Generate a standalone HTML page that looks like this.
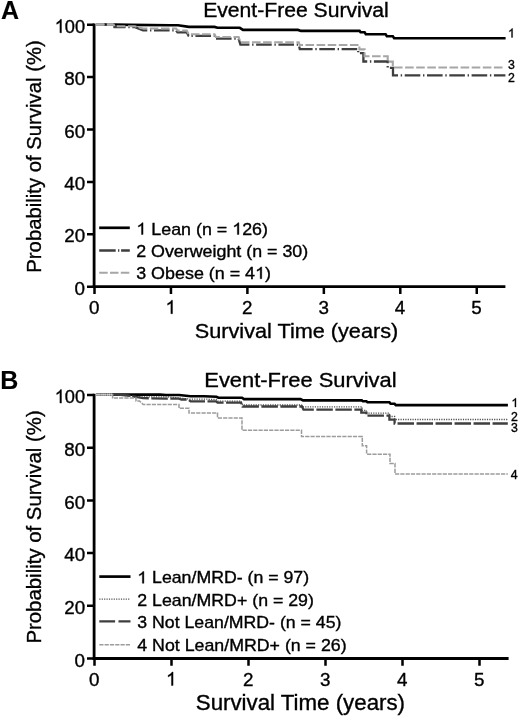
<!DOCTYPE html>
<html>
<head>
<meta charset="utf-8">
<title>Event-Free Survival</title>
<style>
html,body{margin:0;padding:0;background:#fff;}
body{width:520px;height:717px;overflow:hidden;font-family:"Liberation Sans",sans-serif;}
svg{display:block;will-change:transform;}
text{font-family:"Liberation Sans",sans-serif;fill:#000;stroke:#000;stroke-width:0.35px;}
.tl{font-size:18.8px;}
.lg{font-size:16.4px;}
.el{font-size:12.3px;}
.pl{font-size:25px;font-weight:bold;stroke-width:0.1px;}
.ax{stroke:#000;stroke-width:2.8;fill:none;}
.tk{stroke:#000;stroke-width:2.5;fill:none;}
.c{fill:none;stroke-linejoin:miter;}
.g1{fill:#000;stroke:#000;}
</style>
</head>
<body>
<svg width="520" height="717" viewBox="0 0 520 717">
<rect x="0" y="0" width="520" height="717" fill="#fff"/>
<g id="panelA">
<text class="pl" x="1.1" y="19.3">A</text>
<text x="203.2" y="17.4" font-size="20" textLength="185.6" lengthAdjust="spacingAndGlyphs">Event-Free Survival</text>
<!-- curves -->
<path class="c" stroke="#000" stroke-width="2.6" d="M96 24.5 H114 L130 24.9 L170 25.3 H178 L188.8 26.9 H214.5 L217.5 27.8 H239.8 L243 29.9 H298 L301 30.9 H359.6 L360.6 32.3 H364.6 L365.8 34.2 H385.6 L386.8 36.2 H392.8 L394.2 38.3 H505.6"/>
<path class="c" stroke="#3e3e3e" stroke-width="2.3" stroke-dasharray="15.6 2.7 1.4 2.6" stroke-dashoffset="6.3" d="M96 24.5 H113.6 L114.4 27.2 H135 L143 30.4 H176 L177.5 32.4 H186.8 L188.6 35.9 H214.6 L215.8 38.6 H238.6 L240.4 44.6 H298.8 L299.8 49.2 H358.2 V53.2 H363.4 V61.5 H387.7 V67.8 H393 V75.3 H505.4"/>
<path class="c" stroke="#a6a6a6" stroke-width="2.1" stroke-dasharray="8.6 2.5" stroke-dashoffset="0.2" d="M96 24.5 H113.6 L114.4 26.3 H135 L143 28.5 H176 L177.5 30.5 H186.8 L188.6 34.2 H214.6 L215.8 37 H238.6 L240.4 42.2 H298.8 L299.8 45 H359.4 V49.4 H364.6 V56.2 H387.7 V61.6 H392.8 V67.5 H503.5"/>
<path class="c" stroke="#ababab" stroke-width="2.7" stroke-dasharray="8.4 2.4" d="M96 24.5 H113.4"/>
<!-- axes -->
<path class="ax" d="M94.1 23.40 V288.10"/>
<path class="ax" d="M92.70 286.7 H505.4"/>
<path class="tk" d="M87 24.70 H94.1 M87 77.10 H94.1 M87 129.50 H94.1 M87 181.90 H94.1 M87 234.30 H94.1 M87 286.70 H94.1"/>
<path class="tk" d="M94.50 286.7 V294.0 M170.95 286.7 V294.0 M247.40 286.7 V294.0 M323.85 286.7 V294.0 M400.30 286.7 V294.0 M476.75 286.7 V294.0"/>
<g class="tl">
<path class="g1" transform="translate(54.70 32.80) scale(0.00890 -0.00918)" stroke-width="38.1" d="M763 0H583V1147Q518 1085 412.5 1023T223 930V1104Q374 1175 487 1276T647 1472H763Z"/>
<text x="64.83" y="32.80" font-size="18.8" textLength="20.27" lengthAdjust="spacingAndGlyphs">00</text>
<text x="64.19" y="85.20" font-size="18.8" textLength="20.91" lengthAdjust="spacingAndGlyphs">80</text>
<text x="64.19" y="137.60" font-size="18.8" textLength="20.91" lengthAdjust="spacingAndGlyphs">60</text>
<text x="64.19" y="190.00" font-size="18.8" textLength="20.91" lengthAdjust="spacingAndGlyphs">40</text>
<text x="64.19" y="242.40" font-size="18.8" textLength="20.91" lengthAdjust="spacingAndGlyphs">20</text>
<text x="74.64" y="294.80" font-size="18.8" textLength="10.46" lengthAdjust="spacingAndGlyphs">0</text>
</g>
<g class="tl">
<text x="89.07" y="313.70" font-size="18.8" textLength="10.46" lengthAdjust="spacingAndGlyphs">0</text>
<path class="g1" transform="translate(165.52 313.70) scale(0.00918 -0.00918)" stroke-width="38.1" d="M763 0H583V1147Q518 1085 412.5 1023T223 930V1104Q374 1175 487 1276T647 1472H763Z"/>
<text x="241.97" y="313.70" font-size="18.8" textLength="10.46" lengthAdjust="spacingAndGlyphs">2</text>
<text x="318.42" y="313.70" font-size="18.8" textLength="10.46" lengthAdjust="spacingAndGlyphs">3</text>
<text x="394.87" y="313.70" font-size="18.8" textLength="10.46" lengthAdjust="spacingAndGlyphs">4</text>
<text x="471.32" y="313.70" font-size="18.8" textLength="10.46" lengthAdjust="spacingAndGlyphs">5</text>
</g>
<text x="194.8" y="337.8" font-size="20.6" textLength="203.4" lengthAdjust="spacingAndGlyphs">Survival Time (years)</text>
<text transform="translate(40.9 272.7) rotate(-90)" font-size="20.3" textLength="232.4" lengthAdjust="spacingAndGlyphs">Probability of Survival (%)</text>
<g class="el">
<path class="g1" transform="translate(508.00 37.40) scale(0.00601 -0.00601)" stroke-width="58.3" d="M763 0H583V1147Q518 1085 412.5 1023T223 930V1104Q374 1175 487 1276T647 1472H763Z"/>
<text x="507.90" y="69.00" font-size="12.3" textLength="6.84" lengthAdjust="spacingAndGlyphs">3</text>
<text x="507.90" y="81.90" font-size="12.3" textLength="6.84" lengthAdjust="spacingAndGlyphs">2</text>
</g>
<!-- legend -->
<path class="c" stroke="#000" stroke-width="2.7" d="M99.2 227.8 H129.8"/>
<path class="c" stroke="#3e3e3e" stroke-width="2.3" stroke-dasharray="16.5 2.3 1.3 1.8" d="M99.2 250.5 H129.8"/>
<path class="c" stroke="#a6a6a6" stroke-width="2.1" stroke-dasharray="8.5 2.3" d="M99.2 272.8 H129.8"/>
<g class="lg">
<path class="g1" transform="translate(136.40 234.50) scale(0.00872 -0.00801)" stroke-width="43.7" d="M763 0H583V1147Q518 1085 412.5 1023T223 930V1104Q374 1175 487 1276T647 1472H763Z"/>
<text x="151.30" y="234.50" font-size="16.4" textLength="75.98" lengthAdjust="spacingAndGlyphs">Lean (n =</text>
<path class="g1" transform="translate(232.25 234.50) scale(0.00872 -0.00801)" stroke-width="43.7" d="M763 0H583V1147Q518 1085 412.5 1023T223 930V1104Q374 1175 487 1276T647 1472H763Z"/>
<text x="242.18" y="234.50" font-size="16.4" textLength="25.82" lengthAdjust="spacingAndGlyphs">26)</text>
<text x="136.20" y="256.50" font-size="16.4" textLength="172.00" lengthAdjust="spacingAndGlyphs">2 Overweight (n = 30)</text>
<text x="136.20" y="278.70" font-size="16.4" textLength="118.89" lengthAdjust="spacingAndGlyphs">3 Obese (n = 4</text>
<path class="g1" transform="translate(255.09 278.70) scale(0.00874 -0.00801)" stroke-width="43.7" d="M763 0H583V1147Q518 1085 412.5 1023T223 930V1104Q374 1175 487 1276T647 1472H763Z"/>
<text x="265.04" y="278.70" font-size="16.4" textLength="5.96" lengthAdjust="spacingAndGlyphs">)</text>
</g>
</g>
<g id="panelB">
<text class="pl" x="0.3" y="388.8">B</text>
<text x="204.3" y="387.3" font-size="20.6" textLength="192.3" lengthAdjust="spacingAndGlyphs">Event-Free Survival</text>
<!-- curves -->
<path class="c" stroke="#000" stroke-width="2.6" d="M96 394.6 H160 L166 395 H179 L190.6 396.3 H204 L216.5 396.8 L218.4 397.7 H242 L244 399.1 H300.6 L303 400.4 H361.8 L362.8 401.2 H366.4 L367.4 402.2 H389.4 L390.6 403.8 H394.6 L395.8 405.1 H507.9"/>
<path class="c" stroke="#505050" stroke-width="1.3" stroke-dasharray="1.2 1.2" d="M96 394.6 H112 L143 396.9 H168 L190 399.1 H204 L216 399.5 L217.5 401.2 H241 L242.5 405 H301.5 L303 406.8 H362 V410.3 H366.4 V413.2 H389.4 V416.5 H394.6 V419.5 H507.8"/>
<path class="c" stroke="#3e3e3e" stroke-width="2.3" stroke-dasharray="16.5 2.5" stroke-dashoffset="1.4" d="M96 394.6 H118 L128 395.5 L143 398.1 L166 398.6 H179 L181.4 399.5 H188.3 L190.6 401.4 H216 L217.5 402.6 H241 L242.5 406.5 H302 L303.5 409.7 H361.3 V412.7 H366.4 V415.6 H389.4 V419.6 H394.6 V423.5 H507.8"/>
<path class="c" stroke="#9c9c9c" stroke-width="1.5" stroke-dasharray="4.2 1.1" d="M96 394.6 H112.6 V398 H136 V401 H139.5 L143.2 404.5 H179 V408.3 H189 V413.1 H217.5 V418 H242 V430.3 H301.5 V436.6 H362.3 V445.8 H366.6 V454.2 H390 V463.5 H395 V474 H507.8"/>
<path class="c" stroke="#d4d4d4" stroke-width="2.3" stroke-dasharray="1.5 0.55" d="M96.2 394.6 H112.4"/>
<!-- axes -->
<path class="ax" d="M94.1 393.70 V659.90"/>
<path class="ax" d="M92.70 658.5 H508.6"/>
<path class="tk" d="M87 395.00 H94.1 M87 447.70 H94.1 M87 500.40 H94.1 M87 553.10 H94.1 M87 605.80 H94.1 M87 658.50 H94.1"/>
<path class="tk" d="M94.50 658.5 V665.8 M171.50 658.5 V665.8 M248.50 658.5 V665.8 M325.50 658.5 V665.8 M402.50 658.5 V665.8 M479.50 658.5 V665.8"/>
<g class="tl">
<path class="g1" transform="translate(54.70 403.10) scale(0.00890 -0.00918)" stroke-width="38.1" d="M763 0H583V1147Q518 1085 412.5 1023T223 930V1104Q374 1175 487 1276T647 1472H763Z"/>
<text x="64.83" y="403.10" font-size="18.8" textLength="20.27" lengthAdjust="spacingAndGlyphs">00</text>
<text x="64.19" y="455.80" font-size="18.8" textLength="20.91" lengthAdjust="spacingAndGlyphs">80</text>
<text x="64.19" y="508.50" font-size="18.8" textLength="20.91" lengthAdjust="spacingAndGlyphs">60</text>
<text x="64.19" y="561.20" font-size="18.8" textLength="20.91" lengthAdjust="spacingAndGlyphs">40</text>
<text x="64.19" y="613.90" font-size="18.8" textLength="20.91" lengthAdjust="spacingAndGlyphs">20</text>
<text x="74.64" y="666.60" font-size="18.8" textLength="10.46" lengthAdjust="spacingAndGlyphs">0</text>
</g>
<g class="tl">
<text x="89.07" y="685.50" font-size="18.8" textLength="10.46" lengthAdjust="spacingAndGlyphs">0</text>
<path class="g1" transform="translate(166.07 685.50) scale(0.00918 -0.00918)" stroke-width="38.1" d="M763 0H583V1147Q518 1085 412.5 1023T223 930V1104Q374 1175 487 1276T647 1472H763Z"/>
<text x="243.07" y="685.50" font-size="18.8" textLength="10.46" lengthAdjust="spacingAndGlyphs">2</text>
<text x="320.07" y="685.50" font-size="18.8" textLength="10.46" lengthAdjust="spacingAndGlyphs">3</text>
<text x="397.07" y="685.50" font-size="18.8" textLength="10.46" lengthAdjust="spacingAndGlyphs">4</text>
<text x="474.07" y="685.50" font-size="18.8" textLength="10.46" lengthAdjust="spacingAndGlyphs">5</text>
</g>
<text x="195.8" y="709.8" font-size="21.2" textLength="209.2" lengthAdjust="spacingAndGlyphs">Survival Time (years)</text>
<text transform="translate(41.2 643.6) rotate(-90)" font-size="20.4" textLength="233.3" lengthAdjust="spacingAndGlyphs">Probability of Survival (%)</text>
<g class="el">
<path class="g1" transform="translate(511.40 407.00) scale(0.00601 -0.00601)" stroke-width="58.3" d="M763 0H583V1147Q518 1085 412.5 1023T223 930V1104Q374 1175 487 1276T647 1472H763Z"/>
<text x="511.00" y="420.80" font-size="12.3" textLength="6.84" lengthAdjust="spacingAndGlyphs">2</text>
<text x="511.00" y="432.40" font-size="12.3" textLength="6.84" lengthAdjust="spacingAndGlyphs">3</text>
<text x="510.80" y="479.00" font-size="12.3" textLength="6.84" lengthAdjust="spacingAndGlyphs">4</text>
</g>
<!-- legend -->
<path class="c" stroke="#000" stroke-width="2.7" d="M99.3 576.6 H130.5"/>
<path class="c" stroke="#505050" stroke-width="1.3" stroke-dasharray="1.2 1.2" d="M99.3 599.2 H130.5"/>
<path class="c" stroke="#3e3e3e" stroke-width="2.3" stroke-dasharray="15.8 3.4" d="M99.3 621.4 H130.5"/>
<path class="c" stroke="#9c9c9c" stroke-width="1.5" stroke-dasharray="4.2 1.1" d="M99.3 644.8 H130.5"/>
<g class="lg">
<path class="g1" transform="translate(137.30 583.30) scale(0.00865 -0.00801)" stroke-width="43.7" d="M763 0H583V1147Q518 1085 412.5 1023T223 930V1104Q374 1175 487 1276T647 1472H763Z"/>
<text x="152.07" y="583.30" font-size="16.4" textLength="157.03" lengthAdjust="spacingAndGlyphs">Lean/MRD- (n = 97)</text>
<text x="137.30" y="605.80" font-size="16.4" textLength="176.60" lengthAdjust="spacingAndGlyphs">2 Lean/MRD+ (n = 29)</text>
<text x="137.30" y="628.00" font-size="16.4" textLength="204.10" lengthAdjust="spacingAndGlyphs">3 Not Lean/MRD- (n = 45)</text>
<text x="137.30" y="650.60" font-size="16.4" textLength="209.30" lengthAdjust="spacingAndGlyphs">4 Not Lean/MRD+ (n = 26)</text>
</g>
</g>
</svg>
</body>
</html>
